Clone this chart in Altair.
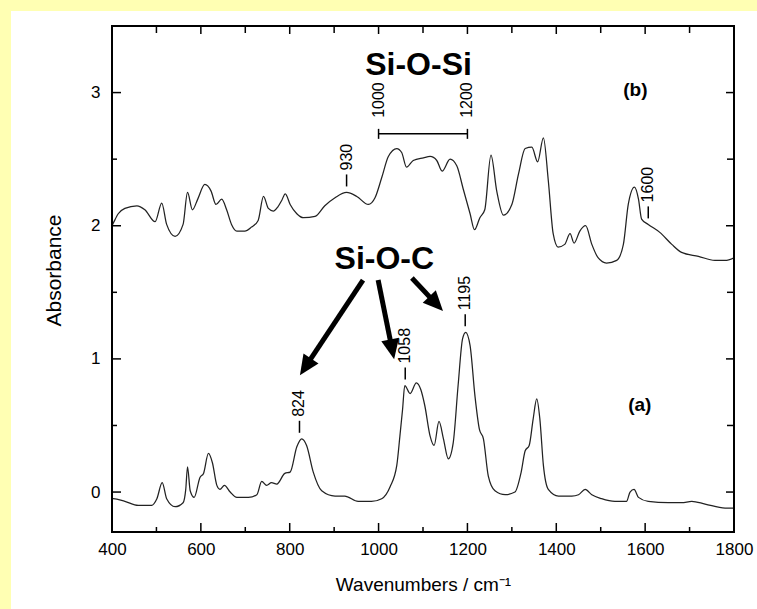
import math
import altair as alt
import pandas as pd

# ---------------- data ----------------
b_x = [400, 403, 414, 429, 456, 474, 497, 512, 523, 542,
       560, 570, 581, 593, 609, 623, 634, 647, 658, 669,
       681, 699, 714, 729, 741, 752, 763, 773, 782, 790,
       801, 816, 831, 857, 879, 902, 928, 951, 977, 992,
       1007, 1022, 1041, 1052, 1063, 1078, 1101, 1116, 1131, 1143,
       1161, 1176, 1191, 1206, 1216, 1228, 1239, 1253, 1266, 1281,
       1300, 1315, 1330, 1345, 1358, 1371, 1382, 1393, 1404, 1419,
       1431, 1440, 1453, 1466, 1480, 1494, 1513, 1536, 1551, 1562,
       1576, 1585, 1592, 1607, 1633, 1660, 1682, 1720, 1757, 1780,
       1800]
b_y = [2.00, 2.02, 2.09, 2.13, 2.15, 2.12, 2.03, 2.17, 2.01, 1.92,
       2.01, 2.25, 2.12, 2.20, 2.31, 2.26, 2.16, 2.20, 2.12, 2.01,
       1.96, 1.96, 1.99, 2.04, 2.22, 2.13, 2.11, 2.14, 2.19, 2.24,
       2.16, 2.09, 2.06, 2.07, 2.15, 2.21, 2.25, 2.22, 2.16, 2.21,
       2.36, 2.52, 2.58, 2.55, 2.44, 2.49, 2.51, 2.52, 2.49, 2.41,
       2.50, 2.45, 2.27, 2.09, 1.97, 2.06, 2.12, 2.53, 2.26, 2.08,
       2.16, 2.39, 2.58, 2.59, 2.48, 2.66, 2.34, 1.94, 1.84, 1.86,
       1.94, 1.87, 1.96, 2.00, 1.86, 1.76, 1.72, 1.74, 1.86, 2.16,
       2.29, 2.20, 2.05, 2.01, 1.95, 1.86, 1.80, 1.77, 1.74, 1.74,
       1.76]

a_x = [400, 403, 429, 459, 489, 501, 513, 523, 542, 560,
       566, 570, 576, 585, 598, 606, 617, 626, 636, 643,
       653, 666, 681, 707, 726, 737, 748, 759, 771, 789,
       801, 816, 827, 838, 853, 872, 902, 924, 954, 984,
       1007, 1026, 1041, 1048, 1054, 1059, 1071, 1085, 1095, 1104,
       1116, 1125, 1136, 1146, 1157, 1168, 1179, 1189, 1196, 1206,
       1217, 1227, 1236, 1247, 1262, 1285, 1307, 1321, 1330, 1339,
       1348, 1356, 1363, 1371, 1382, 1405, 1435, 1450, 1465, 1480,
       1502, 1532, 1558, 1566, 1575, 1585, 1607, 1652, 1682, 1705,
       1735, 1780, 1800]
a_y = [-0.06, -0.05, -0.07, -0.10, -0.10, -0.05, 0.07, -0.05, -0.11, -0.08,
       0.02, 0.19, 0.01, -0.04, 0.11, 0.14, 0.29, 0.22, 0.05, 0.02,
       0.05, 0.00, -0.04, -0.04, -0.02, 0.08, 0.05, 0.07, 0.06, 0.14,
       0.15, 0.34, 0.40, 0.35, 0.15, 0.01, -0.03, -0.03, -0.07, -0.07,
       -0.05, 0.04, 0.20, 0.42, 0.62, 0.80, 0.74, 0.82, 0.77, 0.65,
       0.42, 0.35, 0.53, 0.40, 0.25, 0.37, 0.80, 1.15, 1.20, 1.10,
       0.72, 0.47, 0.40, 0.12, 0.01, -0.02, 0.00, 0.15, 0.31, 0.35,
       0.55, 0.70, 0.55, 0.20, 0.02, -0.03, -0.03, -0.02, 0.02, -0.02,
       -0.05, -0.07, -0.07, 0.00, 0.02, -0.04, -0.07, -0.08, -0.08, -0.07,
       -0.09, -0.12, -0.12]

x_major = [400, 600, 800, 1000, 1200, 1400, 1600, 1800]
x_minor = [500, 700, 900, 1100, 1300, 1500, 1700]
y_major = [0, 1, 2, 3]
y_minor = [0.5, 1.5, 2.5]

peak_labels = ["930", "1600", "824", "1058", "1195"]
peak_x = [928, 1607, 822, 1060, 1195]
peak_y = [2.25, 2.01, 0.40, 0.80, 1.20]

bracket_labels = ["1000", "1200"]
bracket_x = [1000, 1200]
bracket_y = [2.69, 2.69]

group_labels = ["Si-O-Si", "Si-O-C"]
group_x = [1090, 1013]
group_y = [3.13, 1.674]

sample_labels = ["(b)", "(a)"]
sample_x = [1578, 1588]
sample_y = [3.02, 0.655]

arrow_tail_x = [965, 999, 1075]
arrow_tail_y = [1.592, 1.592, 1.607]
arrow_tip_x = [823, 1035, 1145]
arrow_tip_y = [0.878, 0.998, 1.359]

# ---------------- layout ----------------
X_DOMAIN = [400, 1800]
Y_DOMAIN = [-0.3, 3.5]
W, H = 622, 506
PAD = {"left": 112, "top": 26, "right": 23, "bottom": 77}
FONT = "Liberation Sans"
YELLOW = "#FFFFB3"

xs = alt.Scale(domain=X_DOMAIN, nice=False, zero=False)
ys = alt.Scale(domain=Y_DOMAIN, nice=False, zero=False)
x_axis = alt.Axis(
    values=x_major, format="d", ticks=False, domain=False, grid=False,
    labelFontSize=17, labelPadding=9, labelFlush=False, labelOverlap=False,
    labelColor="black", labelFont=FONT,
    titleFontSize=19, titleFontWeight="normal", titleFont=FONT, titleColor="black",
    titleY=58, titleBaseline="alphabetic")
y_axis = alt.Axis(
    values=y_major, format="d", ticks=False, domain=False, grid=False,
    labelFontSize=17, labelPadding=12, labelColor="black", labelFont=FONT,
    titleFontSize=21, titleFontWeight="normal", titleFont=FONT, titleColor="black",
    titleX=-52, titleY=244, titleAngle=270, titleAlign="center",
    titleBaseline="alphabetic")
X_TITLE = "Wavenumbers / cm⁻¹"
Y_TITLE = "Absorbance"


def XF(field):
    return alt.X(field, scale=xs, axis=x_axis, title=X_TITLE)


def YF(field):
    return alt.Y(field, scale=ys, axis=y_axis, title=Y_TITLE)


one = pd.DataFrame({"k": [0]})

curves = pd.concat([
    pd.DataFrame({"series": "b", "wn": b_x, "ab": b_y}),
    pd.DataFrame({"series": "a", "wn": a_x, "ab": a_y}),
])

# yellow margin strips on the left and top of the white page
strip_left = alt.Chart(one).mark_rect(color=YELLOW).encode(
    x=alt.value(-PAD["left"]), x2=alt.value(-PAD["left"] + 11),
    y=alt.value(-PAD["top"]), y2=alt.value(H + PAD["bottom"]))
strip_top = alt.Chart(one).mark_rect(color=YELLOW).encode(
    x=alt.value(-PAD["left"]), x2=alt.value(W + PAD["right"]),
    y=alt.value(-PAD["top"]), y2=alt.value(-PAD["top"] + 11))

lines = alt.Chart(curves).mark_line(
    color="#222222", strokeWidth=1.25, interpolate="monotone", clip=True
).encode(x=XF("wn:Q"), y=YF("ab:Q"), detail="series:N")

frame = alt.Chart(one).mark_rect(fillOpacity=0, stroke="black", strokeWidth=2).encode(
    x=alt.value(0), x2=alt.value(W), y=alt.value(0), y2=alt.value(H))

xmaj = pd.DataFrame({"wn": x_major})
xmin = pd.DataFrame({"wn": x_minor})
ymaj = pd.DataFrame({"ab": y_major})
ymin = pd.DataFrame({"ab": y_minor})


def xtick(df, y0, y1):
    return alt.Chart(df).mark_rule(color="black", strokeWidth=1.5).encode(
        x=XF("wn:Q"), y=alt.value(y0), y2=alt.value(y1))


def ytick(df, x0, x1):
    return alt.Chart(df).mark_rule(color="black", strokeWidth=1.5).encode(
        y=YF("ab:Q"), x=alt.value(x0), x2=alt.value(x1))


ticks = [
    xtick(xmaj, H, H - 9), xtick(xmin, H, H - 5),
    xtick(xmaj, 0, 8), xtick(xmin, 0, 7),
    ytick(ymaj, 0, 9), ytick(ymin, 0, 5),
    ytick(ymaj, W, W - 8), ytick(ymin, W, W - 7),
]

peaks = pd.DataFrame({"t": peak_labels, "wn": peak_x, "ab": peak_y})
peak_dash = alt.Chart(peaks).mark_rule(
    color="black", strokeWidth=1.5, yOffset=-6, y2Offset=-18
).encode(x=XF("wn:Q"), y=YF("ab:Q"), y2="ab:Q")
peak_text = alt.Chart(peaks).mark_text(
    angle=270, align="left", baseline="middle", dx=22, fontSize=16,
    font=FONT, color="black"
).encode(x=XF("wn:Q"), y=YF("ab:Q"), text="t:N")

br = pd.DataFrame({"t": bracket_labels, "wn": bracket_x, "ab": bracket_y})
br_bar = alt.Chart(pd.DataFrame({"wn": [bracket_x[0]], "wn2": [bracket_x[1]],
                                 "ab": [bracket_y[0]]})).mark_rule(
    color="black", strokeWidth=1.5
).encode(x=XF("wn:Q"), x2="wn2:Q", y=YF("ab:Q"))
br_caps = alt.Chart(br).mark_rule(
    color="black", strokeWidth=1.5, yOffset=-5, y2Offset=5
).encode(x=XF("wn:Q"), y=YF("ab:Q"), y2="ab:Q")
br_text = alt.Chart(br).mark_text(
    angle=270, align="left", baseline="middle", dx=16, fontSize=16,
    font=FONT, color="black"
).encode(x=XF("wn:Q"), y=YF("ab:Q"), text="t:N")

groups = alt.Chart(pd.DataFrame({"t": group_labels, "wn": group_x, "ab": group_y})).mark_text(
    fontSize=32, fontWeight="bold", align="center", baseline="alphabetic",
    font=FONT, color="black"
).encode(x=XF("wn:Q"), y=YF("ab:Q"), text="t:N")

samples = alt.Chart(pd.DataFrame({"t": sample_labels, "wn": sample_x, "ab": sample_y})).mark_text(
    fontSize=19, fontWeight="bold", align="center", baseline="middle",
    font=FONT, color="black"
).encode(x=XF("wn:Q"), y=YF("ab:Q"), text="t:N")

# arrows: shaft + rotated triangular head
ppx = W / (X_DOMAIN[1] - X_DOMAIN[0])
ppy = H / (Y_DOMAIN[1] - Y_DOMAIN[0])
rows = []
for tx, ty, hx, hy in zip(arrow_tail_x, arrow_tail_y, arrow_tip_x, arrow_tip_y):
    dx = (hx - tx) * ppx
    dy = -(hy - ty) * ppy
    L = math.hypot(dx, dy)
    ux, uy = dx / L, dy / L
    rows.append({
        "wn": tx, "ab": ty,
        "sx": hx - ux * 12 / ppx, "sy": hy + uy * 12 / ppy,
        "cx": hx - ux * 10 / ppx, "cy": hy + uy * 10 / ppy,
        "ang": math.degrees(math.atan2(ux, -uy)) % 360,
    })
arrows = pd.DataFrame(rows)
shafts = alt.Chart(arrows).mark_rule(color="black", strokeWidth=5).encode(
    x=XF("wn:Q"), y=YF("ab:Q"), x2="sx:Q", y2="sy:Q")
heads = alt.Chart(arrows).mark_point(
    shape="M0,-1L-0.9,1L0.9,1Z", filled=True, size=400, color="black", opacity=1
).encode(x=XF("cx:Q"), y=YF("cy:Q"), angle=alt.Angle("ang:Q", scale=None))

chart = alt.layer(
    strip_left, strip_top, lines, frame, *ticks, peak_dash, peak_text,
    br_bar, br_caps, br_text, groups, samples, shafts, heads
).properties(
    width=W, height=H, background="white",
    padding=PAD,
    autosize=alt.AutoSizeParams(type="none"),
).configure_view(stroke="transparent")

chart.save("out.html", embed_options={"renderer": "svg", "actions": False})
